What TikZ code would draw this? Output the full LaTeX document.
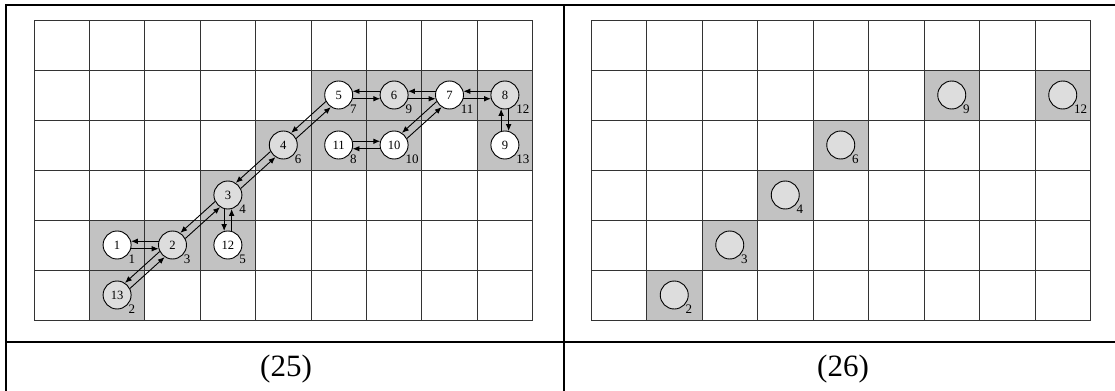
\documentclass[tikz,border=0pt]{standalone}
\usepackage{fontspec}
\setmainfont{Liberation Serif}
\usepackage{tikz}
\usetikzlibrary{arrows.meta}
\definecolor{cellGray}{HTML}{C2C2C2}
\definecolor{dotGray}{HTML}{DDDDDD}

\begin{document}
\begin{tikzpicture}[x=0.5pt,y=-0.5pt,>={Latex[length=3.4pt,width=2.8pt]},
    gridline/.style={draw=black!80,line width=0.5pt},
    site/.style={circle,draw,line width=0.45pt,minimum size=14pt,inner sep=0pt,
      font=\fontsize{6.3}{7}\selectfont},
    lab/.style={font=\fontsize{6.5}{7}\selectfont,inner sep=0pt},
    frame/.style={line width=1pt},
    captext/.style={font=\fontsize{15.5}{18}\selectfont}]
  \useasboundingbox (0,0) rectangle (1115,391);
  % table frame
  \draw[frame] (6,391) -- (6,5) -- (1115,5);
  \draw[frame] (564,5) -- (564,391);
  \draw[frame] (6,342) -- (1115,342);
  \node[captext] (cap25) at (286,369) {(25)};
  \node[captext] (cap26) at (843,369) {(26)};

  % (25): search path
  \begin{scope}[shift={(34,20)},x=27.7pt,y=-25pt]
    \foreach \c/\r in {5/1,6/1,7/1,8/1,4/2,5/2,6/2,8/2,3/3,1/4,2/4,3/4,1/5}
      \fill[cellGray] (\c,\r) rectangle ++(1,1);
    \foreach \c in {0,...,9}
      \draw[gridline] (\c,0) -- (\c,6);
    \foreach \r in {0,...,6}
      \draw[gridline] (0,\r) -- (9,\r);
    \foreach \n/\c/\r/\f/\k in {1/1/4/white/1, 2/2/4/dotGray/3, 12/3/4/white/5,
        13/1/5/dotGray/2, 3/3/3/dotGray/4, 4/4/2/dotGray/6, 11/5/2/white/8,
        10/6/2/white/10, 9/8/2/white/13, 5/5/1/white/7, 6/6/1/dotGray/9,
        7/7/1/white/11, 8/8/1/dotGray/12}
      \node[site,fill=\f,label={[lab]-40:\k}] (n\n) at (\c+.5,\r+.5) {\n};
    % pairs of opposite moves
    \foreach \a/\b/\t/\s in {1/2/0/1, 13/2/42/1, 2/3/42/1, 12/3/90/1,
        3/4/42/1, 4/5/42/1, 5/6/0/1, 6/7/0/1, 7/8/0/1, 9/8/90/-1,
        10/7/42/1, 11/10/0/-1}
    {
      \pgfmathtruncatemacro\pa{\t-15*\s}
      \pgfmathtruncatemacro\pb{\t+180+15*\s}
      \pgfmathtruncatemacro\qb{\t+180-15*\s}
      \pgfmathtruncatemacro\qa{\t+15*\s}
      \draw[->,line width=0.45pt] (n\a.\pa) -- (n\b.\pb);
      \draw[->,line width=0.45pt] (n\b.\qb) -- (n\a.\qa);
    }
  \end{scope}

  % (26): kept cells
  \begin{scope}[shift={(591,20)},x=27.75pt,y=-25pt]
    \foreach \c/\r in {6/1,8/1,4/2,3/3,2/4,1/5}
      \fill[cellGray] (\c,\r) rectangle ++(1,1);
    \foreach \c in {0,...,9}
      \draw[gridline] (\c,0) -- (\c,6);
    \foreach \r in {0,...,6}
      \draw[gridline] (0,\r) -- (9,\r);
    \foreach \c/\r/\k in {1/5/2, 2/4/3, 3/3/4, 4/2/6, 6/1/9, 8/1/12}
      \node[site,fill=dotGray,label={[lab]-40:\k}] (m\k) at (\c+.5,\r+.5) {};
  \end{scope}
\end{tikzpicture}
\end{document}
